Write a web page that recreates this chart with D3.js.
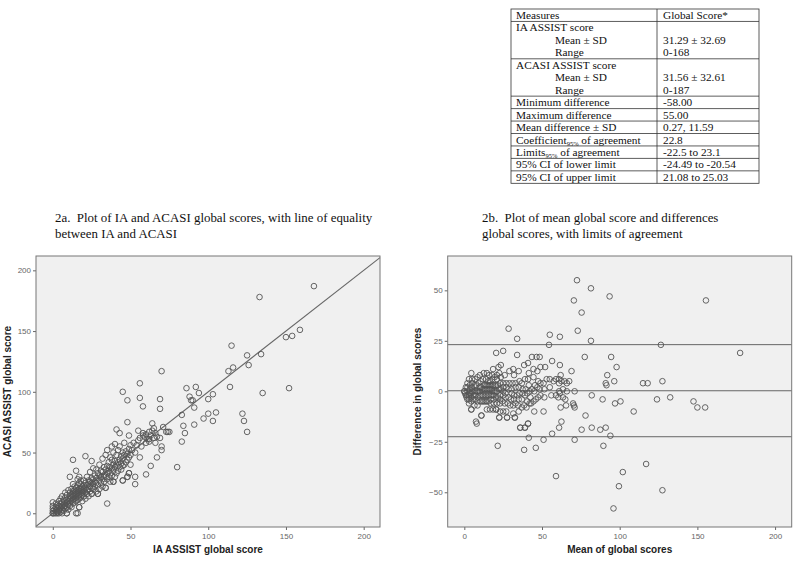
<!DOCTYPE html>
<html><head><meta charset="utf-8">
<script src="https://cdn.jsdelivr.net/npm/d3@7"></script>
<style>body{margin:0;background:#fff}svg{display:block}text{white-space:pre}</style>
</head><body>
<svg id="c" width="800" height="563"></svg>
<script>
// ---------- data ----------
const tableMeasures = ["Measures","IA ASSIST score","Mean ± SD","Range","ACASI ASSIST score","Mean ± SD","Range",
  "Minimum difference","Maximum difference","Mean difference ± SD","Coefficient|95%| of agreement","Limits|95%| of agreement",
  "95% CI of lower limit","95% CI of upper limit"];
const tableValues = ["Global Score*","","31.29 ± 32.69","0-168","","31.56 ± 32.61","0-187","-58.00","55.00","0.27, 11.59","22.8","-22.5 to 23.1","-24.49 to -20.54","21.08 to 25.03"];
const captionA = ["2a.  Plot of IA and ACASI global scores, with line of equality","between IA and ACASI"];
const captionB = ["2b.  Plot of mean global score and differences","global scores, with limits of agreement"];
const xTicks = [0,50,100,150,200];
const yTicksA = [0,50,100,150,200];
const yTicksB = [-50,-25,0,25,50];
const limitsB = [-22.5, 0.27, 23.1];
// paired global scores (IA, ACASI)
const iaScore = [45,48,56,56,70,69,58,69,86,92,88,89,90,94,91,133,168,159,154,150,115,125,134,126,113,116,114,135,152,100,103,83,84,85,83,91,97,100,105,103,122,123,125,80,74,71,69,70,70,67,63,60,53,53,56,64,48,41,43,55,49,35,13,21,25,15,17,11,18,58,73,75,
  0,0,0,0,0,0,1,1,2,2,2,2,3,3,3,3,4,4,4,4,4,5,5,5,5,5,6,6,6,6,6,7,7,7,7,8,8,8,8,8,9,9,9,9,9,10,10,10,10,10,
  11,11,11,11,11,12,12,12,12,12,13,13,13,13,13,13,14,14,14,14,14,14,15,15,15,15,15,15,16,16,16,16,16,16,16,17,17,17,17,17,17,18,18,18,18,18,19,19,19,19,19,20,20,20,20,20,
  21,21,21,21,22,22,22,22,23,23,23,23,24,24,24,24,25,25,25,25,26,26,26,26,27,27,27,28,28,28,28,29,29,29,30,30,30,30,31,31,31,32,32,32,32,33,33,33,34,34,34,34,35,35,35,35,
  36,36,36,37,37,37,37,38,38,38,38,39,39,39,39,40,40,40,40,41,41,41,42,42,42,43,43,43,44,44,44,45,45,45,45,46,46,46,47,47,48,48,48,49,49,49,50,50,50,
  51,52,53,54,55,56,57,58,59,60,61,62,62,63,64,65,66,67,60,65,
  17,9,25,29,34,39,45,48,49,62,66];
const acasiScore = [100,93,107,95,117,94,88,86,103,104,96,93,93,99,87,178,187,151,146,145,138,130,131,122,117,120,104,99,103,94,98,81,72,66,59,73,78,82,83,76,82,76,67,38,67,71,62,55,52,46,39,32,30,24,46,74,75,69,66,68,64,8,44,47,43,35,30,30,27,64,67,67,
  0,0,2,4,6,9,0,3,0,2,5,8,0,1,4,7,0,2,3,6,10,1,4,5,8,12,0,3,6,9,14,2,5,7,11,4,6,8,13,17,0,5,9,11,15,3,7,10,12,19,
  6,9,12,14,17,5,10,13,15,20,8,11,14,16,18,24,9,12,15,17,19,22,0,10,13,16,18,21,0,11,14,17,19,23,28,5,12,15,18,20,25,13,16,18,21,24,10,15,17,19,22,14,18,20,23,27,
  12,17,21,25,16,19,23,30,14,20,24,27,18,22,26,34,16,21,25,29,20,24,28,37,22,26,31,18,25,29,36,16,23,33,20,27,31,40,25,30,35,22,28,34,45,26,31,38,21,30,36,48,28,33,39,52,
  30,35,42,26,33,38,46,31,37,44,55,26,35,40,50,30,38,43,57,33,40,48,35,42,52,38,44,55,36,41,47,27,39,45,50,40,48,58,42,51,30,44,49,33,46,53,40,48,56,
  52,58,50,56,60,62,55,66,63,65,61,67,59,64,68,62,66,63,58,70,
  5,0,16,16,21,26,27,30,33,61,58];

// ---------- drawing ----------
const svg = d3.select("#c");
const serif = "'Liberation Serif','Times New Roman',serif";
const sans = "'Liberation Sans',Arial,sans-serif";

// table
const tX0 = 511, tX1 = 657, tX2 = 759, tY0 = 9, rowH = 12.45;
const blockRows = [[0],[1,2,3],[4,5,6],[7],[8],[9],[10],[11],[12],[13]];
const tg = svg.append("g");
let y = tY0;
const lineTops = [];
blockRows.forEach(b => { lineTops.push(y); b.forEach((r,i)=>{
  const cy = y + rowH*(i+0.5);
  const indent = (r===2||r===3||r===5||r===6) ? 44 : 5;
  const parts = tableMeasures[r].split("|");
  const t = tg.append("text").attr("x", tX0+indent).attr("y", cy+3.8).attr("font-family", serif).attr("font-size", 11.3).attr("fill","#111");
  parts.forEach((p,k)=>{ const ts=t.append("tspan").text(p); if(k===1){ts.attr("font-size",6.5).attr("dy",2);} if(k===2){ts.attr("dy",-2);} });
  tg.append("text").attr("x", tX1+6).attr("y", cy+3.8).attr("font-family", serif).attr("font-size", 11.3).attr("fill","#111").text(tableValues[r]);
 }); y += rowH*b.length; });
lineTops.push(y);
tg.append("rect").attr("x",tX0).attr("y",tY0).attr("width",tX2-tX0).attr("height",y-tY0).attr("fill","none").attr("stroke","#333").attr("stroke-width",0.8);
lineTops.slice(1,-1).forEach(ly=>tg.append("line").attr("x1",tX0).attr("x2",tX2).attr("y1",ly).attr("y2",ly).attr("stroke","#333").attr("stroke-width",0.8));
tg.append("line").attr("x1",tX1).attr("x2",tX1).attr("y1",tY0).attr("y2",y).attr("stroke","#333").attr("stroke-width",0.8);

// captions
function caption(lines, x){ lines.forEach((l,i)=>svg.append("text").attr("x",x).attr("y",222+i*15.5).attr("font-family",serif).attr("font-size",12.9).attr("fill","#111").text(l)); }
caption(captionA, 55);
caption(captionB, 482);

function panel(o){
  const g = svg.append("g");
  const x = d3.scaleLinear().domain(o.xd).range([o.x0,o.x1]);
  const yS = d3.scaleLinear().domain(o.yd).range([o.y1,o.y0]);
  g.append("rect").attr("x",o.x0).attr("y",o.y0).attr("width",o.x1-o.x0).attr("height",o.y1-o.y0).attr("fill","#f0f0f0");
  const ax = g.append("g").attr("transform",`translate(0,${o.y1})`).call(d3.axisBottom(x).tickValues(o.xt).tickSize(3).tickPadding(3));
  const ay = g.append("g").attr("transform",`translate(${o.x0},0)`).call(d3.axisLeft(yS).tickValues(o.yt).tickSize(3).tickPadding(2));
  [ax,ay].forEach(a=>{a.select(".domain").remove(); a.selectAll("line").attr("stroke","#666"); a.selectAll("text").attr("font-family",sans).attr("font-size",8).attr("fill","#666");});
  o.lines(g,x,yS);
  g.append("g").selectAll("circle").data(o.pts).join("circle")
    .attr("cx",d=>x(d[0])).attr("cy",d=>yS(d[1])).attr("r",2.8)
    .attr("fill","none").attr("stroke","#555").attr("stroke-width",0.9);
  g.append("rect").attr("x",o.x0).attr("y",o.y0).attr("width",o.x1-o.x0).attr("height",o.y1-o.y0).attr("fill","none").attr("stroke","#777").attr("stroke-width",1);
  g.append("text").attr("x",(o.x0+o.x1)/2).attr("y",553).attr("text-anchor","middle").attr("font-family",sans).attr("font-weight","bold").attr("font-size",10).attr("fill","#222").text(o.xlab);
  g.append("text").attr("transform",`translate(${o.x0-o.yOff},${(o.y0+o.y1)/2}) rotate(-90)`).attr("text-anchor","middle").attr("font-family",sans).attr("font-weight","bold").attr("font-size",10).attr("fill","#222").text(o.ylab);
}

const pairs = iaScore.map((v,i)=>[v, acasiScore[i]]);
panel({x0:36,x1:380,y0:256,y1:527,xd:[-10.8,210.5],yd:[-11.3,211.8],xt:xTicks,yt:yTicksA,yOff:25,
  xlab:"IA ASSIST global score", ylab:"ACASI ASSIST global score", pts:pairs,
  lines:(g,x,y)=>{ const d=[-10.8,210.5]; g.append("line").attr("x1",x(d[0])).attr("y1",y(d[0])).attr("x2",x(d[1])).attr("y2",y(d[1])).attr("stroke","#666").attr("stroke-width",1.1); }});

const baPts = pairs.map(p=>[(p[0]+p[1])/2, p[1]-p[0]]);
panel({x0:447.7,x1:791.7,y0:256,y1:527,xd:[-10.7,210.7],yd:[-67.2,67],xt:xTicks,yt:yTicksB,yOff:26.5,
  xlab:"Mean of global scores", ylab:"Difference in global scores", pts:baPts,
  lines:(g,x,y)=>{ limitsB.forEach(v=>g.append("line").attr("x1",x.range()[0]).attr("x2",x.range()[1]).attr("y1",y(v)).attr("y2",y(v)).attr("stroke","#666").attr("stroke-width",1)); }});
</script>
</body></html>
